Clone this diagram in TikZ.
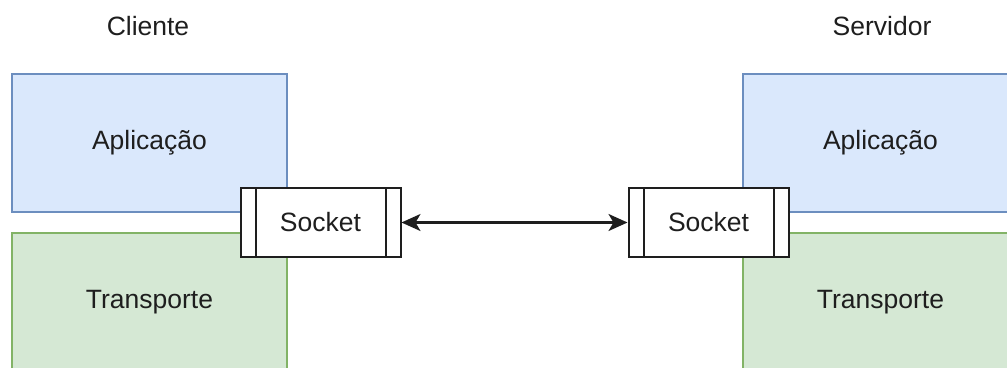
\documentclass[tikz,border=0pt]{standalone}
\usepackage{fontspec}
\setmainfont{Liberation Sans}
\usetikzlibrary{arrows.meta}
\definecolor{appfill}{HTML}{DAE8FC}
\definecolor{appline}{HTML}{6C8EBF}
\definecolor{trfill}{HTML}{D5E8D4}
\definecolor{trline}{HTML}{82B366}
\definecolor{ink}{HTML}{1E1E1E}
\begin{document}
\begin{tikzpicture}[x=1pt,y=-1pt,
  txt/.style={font=\fontsize{26.5}{30}\selectfont, text=ink},
  layer/.style={txt, draw, line width=1.4pt, minimum width=275pt, minimum height=138pt, inner sep=0pt},
  app/.style={layer, fill=appfill, draw=appline},
  transp/.style={layer, fill=trfill, draw=trline},
  sock/.style={txt, draw=ink, fill=white, line width=2pt, minimum width=160pt, minimum height=69pt, inner sep=0pt},
  link/.style={draw=ink, line width=2.2pt, {Stealth[length=19pt,width=17pt,inset=5pt]}-{Stealth[length=19pt,width=17pt,inset=5pt]}}
]
\clip (0,0) rectangle (1007,367);
\fill[white] (0,0) rectangle (1007,367);

% column titles
\node[txt] (tcli) at (148,26) {Cliente};
\node[txt] (tsrv) at (882,26) {Servidor};

% protocol layers
\node[app] (appc) at (149.5,143) {Aplicação};
\node[transp] (trc) at (149.5,302) {Transporte};
\node[app] (apps) at (880.5,143) {Aplicação};
\node[transp] (trs) at (880.5,302) {Transporte};

% sockets with side bars
\node[sock] (sc) at (320.5,222.5) {Socket};
\node[sock] (ss) at (708.5,222.5) {Socket};
\foreach \s in {sc,ss}{
  \draw[draw=ink, line width=2pt] ([xshift=16pt]\s.north west) -- ([xshift=16pt]\s.south west);
  \draw[draw=ink, line width=2pt] ([xshift=-16pt]\s.north east) -- ([xshift=-16pt]\s.south east);
}

% connection between the two sockets
\draw[link] (sc.east) -- (ss.west);
\end{tikzpicture}
\end{document}
